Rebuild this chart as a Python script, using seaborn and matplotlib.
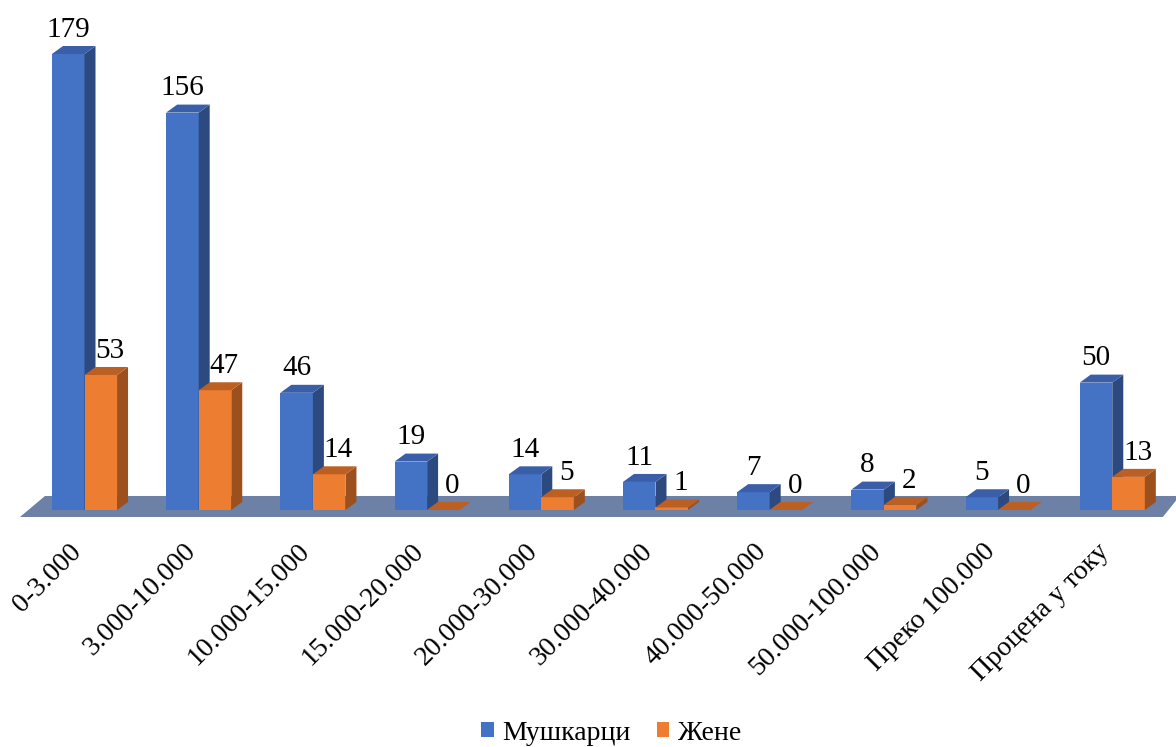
import pandas as pd
import matplotlib.pyplot as plt
import matplotlib.transforms as mtransforms
import seaborn as sns
from matplotlib.patches import Polygon, Patch

categories = ['0-3.000', '3.000-10.000', '10.000-15.000', '15.000-20.000',
              '20.000-30.000', '30.000-40.000', '40.000-50.000', '50.000-100.000',
              'Преко 100.000', 'Процена у току']
men = [179, 156, 46, 19, 14, 11, 7, 8, 5, 50]
women = [53, 47, 14, 0, 5, 1, 0, 2, 0, 13]
series = ['Мушкарци', 'Жене']

df = pd.DataFrame({
    'cat': categories * 2,
    'sex': [series[0]] * len(men) + [series[1]] * len(women),
    'count': men + women,
})

front = {'Мушкарци': '#4472C4', 'Жене': '#ED7D31'}
side = {'Мушкарци': '#2C4A80', 'Жене': '#9C501D'}
top = {'Мушкарци': '#3A5FA8', 'Жене': '#BC5F22'}
floor_color = '#6D80A6'

sns.set_style('white')
plt.rcParams['font.family'] = ['Liberation Serif', 'DejaVu Serif']
plt.rcParams['text.color'] = 'black'
plt.rcParams['xtick.labelcolor'] = 'black'

fig = plt.figure(figsize=(11.76, 7.47), dpi=100)
ax = fig.add_axes([0, 1 - 520 / 747, 1, 520 / 747])

sns.barplot(data=df, x='cat', y='count', hue='sex', hue_order=series,
            palette=front, width=0.57, saturation=1, legend=False, ax=ax,
            linewidth=0, zorder=2)

ax.set_xlim(-0.740, 9.558)
ax.set_ylim(-3.93, 200.2)

# size of the fake depth, converted from pixels to data units
px_x = 1176 / (9.558 + 0.740)
px_y = 520 / (200.2 + 3.93)
ddx = 11 / px_x
ddy = 8 / px_y

# floor
floor = Polygon([(-0.565, -2.75), (9.443, -2.75), (9.59, 5.5), (-0.346, 5.5)],
                closed=True, facecolor=floor_color, edgecolor='none', zorder=1)
ax.add_patch(floor)

for k, name in enumerate(series):
    z = 2 + k
    for bar, val in zip(ax.containers[k], df[df['sex'] == name]['count']):
        bar.set_zorder(z)
        x0 = bar.get_x()
        w = bar.get_width()
        h = bar.get_height()
        x1 = x0 + w
        ax.add_patch(Polygon([(x1, 0), (x1 + ddx, ddy), (x1 + ddx, h + ddy), (x1, h)],
                             closed=True, facecolor=side[name], edgecolor='none', zorder=z))
        ax.add_patch(Polygon([(x0, h), (x1, h), (x1 + ddx, h + ddy), (x0 + ddx, h + ddy)],
                             closed=True, facecolor=top[name], edgecolor='none', zorder=z))
        xoff = 0 if k == 0 else 6.5
        ax.annotate(str(val), (x0 + w / 2, h), xytext=(xoff, 12.5),
                    textcoords='offset points', ha='center', va='baseline',
                    fontsize=21, color='black', zorder=5)

ax.set_xlabel('')
ax.set_ylabel('')
ax.set_yticks([])
ax.set_xticks(range(len(categories)))
ax.set_xticklabels(categories, rotation=45, ha='right', va='center',
                   rotation_mode='anchor', fontsize=20, color='black')
ax.tick_params(axis='x', length=0, pad=20)
shift = mtransforms.ScaledTranslation(-7 / 100, 0, fig.dpi_scale_trans)
for lab in ax.get_xticklabels():
    lab.set_transform(lab.get_transform() + shift)
for s in ax.spines.values():
    s.set_visible(False)

handles = [Patch(facecolor=front[s], edgecolor='none', label=s) for s in series]
fig.legend(handles=handles, loc='center', bbox_to_anchor=(611 / 1176, 1 - 733 / 747),
           ncol=2, frameon=False, fontsize=20, handlelength=0.45, handleheight=0.45,
           handletextpad=0.3, columnspacing=0.95, borderpad=0, labelcolor='black')

fig.savefig('out.png', dpi=100)
